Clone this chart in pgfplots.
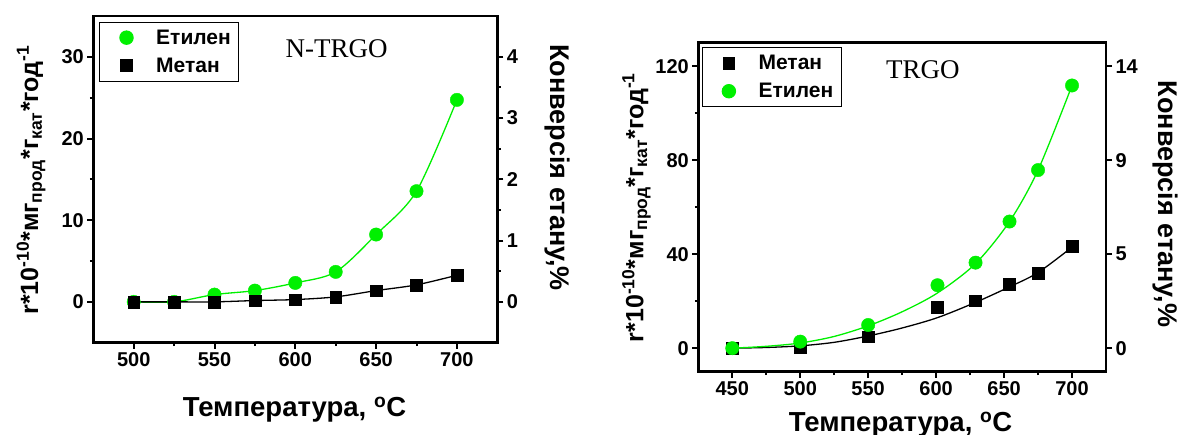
\documentclass[border=0pt]{standalone}
\usepackage{fontspec}
\setmainfont{Liberation Sans}
\newfontfamily\serifname{Liberation Serif}
\usepackage{pgfplots}
\usepackage{pgfplotstable}
\pgfplotsset{compat=1.18}

\definecolor{lime}{RGB}{0,240,0}

\newcommand{\tickfont}{\fontsize{20}{22}\selectfont\bfseries}
\newcommand{\xlabfont}{\fontsize{27.5}{30}\selectfont\bfseries}
\newcommand{\ylabfont}{\fontsize{25}{28}\selectfont\bfseries}
\newcommand{\rlabfont}{\fontsize{27}{30}\selectfont\bfseries}
\newcommand{\legfont}{\fontsize{21}{23}\selectfont\bfseries}
\newcommand{\titfont}{\fontsize{27}{30}\selectfont\serifname}

% N-TRGO: rates, 10^-10 mg/(g h)
\pgfplotstableread{
T r
500 0
525 0
550 0.89
575 1.38
600 2.32
625 3.67
650 8.24
675 13.55
700 24.73
}\nEthylene
\pgfplotstableread{
T r
500 0
525 0
550 0
575 0.16
600 0.28
625 0.61
650 1.38
675 2.08
700 3.26
}\nMethane

% TRGO: measured rates
\pgfplotstableread{
T r
450 0
500 0.4
550 4.9
601 17.4
629 20.2
654 27.2
675 32.0
700 43.5
}\tMethane
\pgfplotstableread{
T r
450 0
500 2.8
550 9.87
601 26.8
629 36.4
654 53.9
675 75.8
700 111.8
}\tEthylene
% TRGO: fitted curves
\pgfplotstableread{
T r
450 0
475 0.3
500 1.0
525 2.5
550 5.2
575 8.6
601 13.0
629 19.5
654 26.1
675 32.2
700 43.0
}\tMethaneFit
\pgfplotstableread{
T r
450 0
475 0.8
500 2.2
525 5.0
550 9.5
575 15.5
601 23.5
629 36.0
654 53.9
675 75.8
700 111.8
}\tEthyleneFit

\pgfplotsset{
  chart/.style={
    scale only axis, anchor=south west,
    tick align=outside,
    major tick length=6pt, minor tick length=3.5pt,
    tick style={line width=2pt, black},
    axis line style={line width=2.5pt},
    ticklabel style={font=\tickfont},
    /pgf/number format/assume math mode=true,
  },
  leg/.style={
    legend cell align=left,
    legend style={draw=black, line width=1pt, font=\legfont,
      inner xsep=8pt, inner ysep=7.5pt,
      nodes={inner sep=0pt}, column sep=11pt, row sep=12pt},
    legend image code/.code={%
      \path[draw=none, fill=none] (0pt,0pt) -- (37.4pt,0pt);
      \path[##1, only marks] plot coordinates {(18.7pt,0pt)};},
  },
  ethmark/.style={only marks, mark=*, mark size=6.7pt, color=lime, draw=lime, fill=lime},
  memark/.style={only marks, mark=square*, mark size=5.85pt, color=black},
}

\begin{document}
\begin{tikzpicture}
\useasboundingbox (0,0) rectangle (1181pt,435pt);

% ---------- N-TRGO ----------
\begin{axis}[chart, leg,
  at={(93.3pt,92.3pt)}, width=404pt, height=326.7pt,
  xmin=475, xmax=725, ymin=-5, ymax=35,
  xtick={500,550,600,650,700}, minor x tick num=1,
  ytick={0,10,20,30}, minor y tick num=1,
  xtick pos=left, ytick pos=left,
  xlabel={Температура, \textsuperscript{o}C},
  xlabel style={font=\xlabfont, at={(axis description cs:0.498,-0.2265)}, anchor=base},
  ylabel={r*10\textsuperscript{-10}*мг\textsubscript{прод}*г\textsubscript{кат}*год\textsuperscript{-1}},
  ylabel style={font=\ylabfont, at={(axis description cs:-0.154,0.498)}, anchor=center},
  legend style={at={(axis description cs:0.0149,0.9826)}, anchor=north west},
]
\addplot[lime, line width=1.3pt, smooth, forget plot] table[x=T,y=r] {\nEthylene};
\addplot[black, line width=1.3pt, smooth, forget plot] table[x=T,y=r] {\nMethane};
\addplot[ethmark] table[x=T,y=r] {\nEthylene};
\addlegendentry{Етилен}
\addplot[memark] table[x=T,y=r] {\nMethane};
\addlegendentry{Метан}
\node[font=\titfont, anchor=base] at (axis description cs:0.6025,0.8736) {N-TRGO};
\end{axis}

\begin{axis}[chart,
  at={(93.3pt,92.3pt)}, width=404pt, height=326.7pt,
  xmin=475, xmax=725, ymin=-0.66667, ymax=4.66667,
  hide x axis,
  ytick={0,1,2,3,4}, minor y tick num=1,
  ytick pos=right, yticklabel pos=right,
  ylabel={Конверсія етану,\%},
  ylabel style={font=\rlabfont, at={(axis description cs:1.148,0.536)}, anchor=center, rotate=180},
]
\end{axis}

% ---------- TRGO ----------
\begin{axis}[chart, leg,
  at={(698.3pt,63.3pt)}, width=407.7pt, height=329pt,
  xmin=425, xmax=725, ymin=-10, ymax=130,
  xtick={450,500,550,600,650,700}, minor x tick num=1,
  ytick={0,40,80,120}, minor y tick num=1,
  xtick pos=left, ytick pos=left,
  xlabel={Температура, \textsuperscript{o}C},
  xlabel style={font=\xlabfont, at={(axis description cs:0.496,-0.1824)}, anchor=base},
  ylabel={r*10\textsuperscript{-10}*мг\textsubscript{прод}*г\textsubscript{кат}*год\textsuperscript{-1}},
  ylabel style={font=\ylabfont, at={(axis description cs:-0.1516,0.499)}, anchor=center},
  legend style={at={(axis description cs:0.0083,0.986)}, anchor=north west},
]
\addplot[black, line width=1.3pt, smooth, forget plot] table[x=T,y=r] {\tMethaneFit};
\addplot[lime, line width=1.3pt, smooth, forget plot] table[x=T,y=r] {\tEthyleneFit};
\addplot[memark] table[x=T,y=r] {\tMethane};
\addlegendentry{Метан}
\addplot[ethmark] table[x=T,y=r] {\tEthylene};
\addlegendentry{Етилен}
\node[font=\titfont, anchor=base] at (axis description cs:0.5511,0.8918) {TRGO};
\end{axis}

\begin{axis}[chart,
  at={(698.3pt,63.3pt)}, width=407.7pt, height=329pt,
  xmin=425, xmax=725, ymin=-1.16667, ymax=15.16667,
  hide x axis,
  ytick={0,4.66667,9.33333,14}, yticklabels={0,5,9,14}, minor y tick num=1,
  ytick pos=right, yticklabel pos=right,
  ylabel={Конверсія етану,\%},
  ylabel style={font=\rlabfont, at={(axis description cs:1.1447,0.5097)}, anchor=center, rotate=180},
]
\end{axis}
\end{tikzpicture}
\end{document}
